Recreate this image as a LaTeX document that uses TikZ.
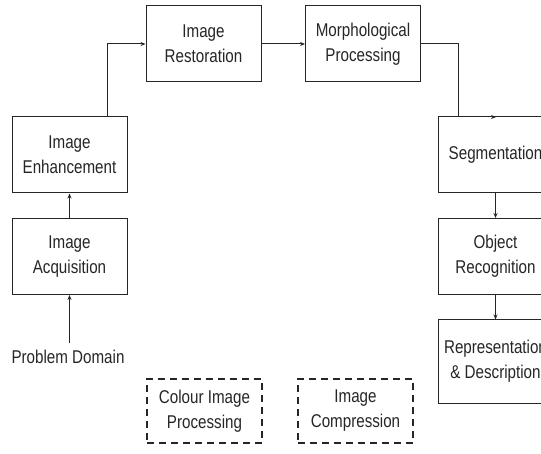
\documentclass[tikz,border=0pt]{standalone}
\usepackage{fontspec}
\setmainfont[FakeStretch=0.82]{Liberation Sans}
\usetikzlibrary{arrows.meta}
\begin{document}
\begin{tikzpicture}[x=1pt,y=-1pt,
  every node/.style={font=\fontsize{18.5}{25}\selectfont, text=black!85, align=center},
  blk/.style={draw=black!85, line width=1pt, fill=white, minimum width=115pt, minimum height=76pt, inner sep=0pt},
  dbox/.style={draw=black!85, line width=1.6pt, dash pattern=on 7pt off 5pt, minimum width=115pt, minimum height=64pt, inner sep=0pt},
  conn/.style={draw=black!85, line width=1pt, -{Stealth[length=5pt,width=4pt]}}]
\useasboundingbox (0,0) rectangle (541,454);
\begin{scope}
\clip (0,0) rectangle (541,454);
\node[blk] (rest) at (203.5,44) {Image\\Restoration};
\node[blk] (morph) at (363,44) {Morphological\\Processing};
\node[blk] (enh) at (69.5,155) {Image\\Enhancement};
\node[blk] (acq) at (69.5,256.5) {Image\\Acquisition};
\node (pd) at (68,357) {Problem Domain};
\node[dbox] (col) at (204.5,411) {Colour Image\\Processing};
\node[dbox] (comp) at (355.5,411) {Image\\Compression};
\node[blk] (seg) at (495.5,155) {Segmentation};
\node[blk] (obj) at (495.5,256.5) {Object\\Recognition};
\node[blk, minimum height=83pt] (rep) at (495.5,361.5) {Representation\\\& Description};
\coordinate (pdtop) at (69.5,343);
\coordinate (c1) at (107,44);
\coordinate (c2) at (458,44);
\coordinate (c3) at (458,117);
\coordinate (c4) at (496,117);
\draw[conn] (pdtop) -- (acq.south);
\draw[conn] (acq.north) -- (enh.south);
\draw[conn] (enh.north -| c1) -- (c1) -- (rest.west);
\draw[conn] (rest.east) -- (morph.west);
\draw[conn] (morph.east) -- (c2) -- (c3) -- (c4);
\draw[conn] (seg.south) -- (obj.north);
\draw[conn] (obj.south) -- (rep.north);
\end{scope}
\end{tikzpicture}
\end{document}
